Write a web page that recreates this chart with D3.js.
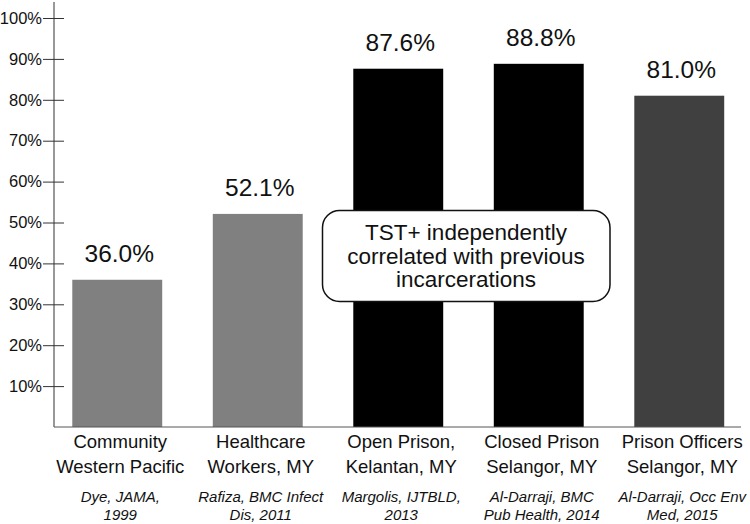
<!DOCTYPE html>
<meta charset="utf-8">
<script src="https://d3js.org/d3.v7.min.js"></script>
<style>
  body { margin: 0; background: #fff; }
  text { font-family: "Liberation Sans", Arial, sans-serif; fill: #111; }
</style>
<div id="chart"></div>
<script>
// data
const categories = [
  ["Community", "Western Pacific"],
  ["Healthcare", "Workers, MY"],
  ["Open Prison,", "Kelantan, MY"],
  ["Closed Prison", "Selangor, MY"],
  ["Prison Officers", "Selangor, MY"]
];
const values = [36.0, 52.1, 87.6, 88.8, 81.0];
const refs = [
  ["Dye, JAMA,", "1999"],
  ["Rafiza, BMC Infect", "Dis, 2011"],
  ["Margolis, IJTBLD,", "2013"],
  ["Al-Darraji, BMC", "Pub Health, 2014"],
  ["Al-Darraji, Occ Env", "Med, 2015"]
];
const yTicks = [10, 20, 30, 40, 50, 60, 70, 80, 90, 100];
const note = ["TST+ independently", "correlated with previous", "incarcerations"];

const barColors = ["#808080", "#808080", "#000", "#000", "#404040"];

const width = 750, height = 524;
const baseY = 427;

const svg = d3.select("#chart").append("svg")
  .attr("width", width)
  .attr("height", height);

const x = d3.scaleBand()
  .domain(d3.range(values.length))
  .range([47, 749.5])
  .paddingInner(0.36)
  .paddingOuter(0.18);

const y = d3.scaleLinear()
  .domain([0, 100])
  .range([baseY, 18]);

// y axis
const yAxis = svg.append("g")
  .attr("transform", "translate(54,0)")
  .call(d3.axisLeft(y).tickValues(yTicks).tickFormat(d => d + "%").tickSizeOuter(0));
yAxis.select(".domain").remove();
yAxis.selectAll(".tick line").attr("x1", 10).attr("x2", -11).attr("stroke", "#333");
yAxis.selectAll(".tick text")
  .attr("x", -12)
  .style("font-size", "16.5px")
  .style("font-family", "'Liberation Sans', Arial, sans-serif")
  .attr("fill", "#111");

svg.append("line")
  .attr("x1", 54).attr("x2", 54)
  .attr("y1", 2).attr("y2", baseY)
  .attr("stroke", "#333");

// bars
svg.append("g").selectAll("rect")
  .data(values)
  .join("rect")
    .attr("x", (d, i) => x(i))
    .attr("y", d => y(d))
    .attr("width", x.bandwidth())
    .attr("height", d => baseY - y(d))
    .attr("fill", (d, i) => barColors[i]);

// baseline
svg.append("line")
  .attr("x1", 54).attr("x2", 741)
  .attr("y1", baseY).attr("y2", baseY)
  .attr("stroke", "#555");

// value labels
svg.append("g").selectAll("text")
  .data(values)
  .join("text")
    .attr("x", (d, i) => x(i) + x.bandwidth() / 2 + 2)
    .attr("y", d => y(d) - 18)
    .attr("text-anchor", "middle")
    .style("font-size", "24.5px")
    .text(d => d.toFixed(1) + "%");

// category labels
const cat = svg.append("g").selectAll("text")
  .data(categories)
  .join("text")
    .attr("text-anchor", "middle")
    .style("font-size", "18.5px");
cat.selectAll("tspan")
  .data((d, i) => d.map(t => ({ t, i })))
  .join("tspan")
    .attr("x", d => x(d.i) + x.bandwidth() / 2 + 3)
    .attr("y", (d, j) => 448 + j * 24.5)
    .text(d => d.t);

// references
const ref = svg.append("g").selectAll("text")
  .data(refs)
  .join("text")
    .attr("text-anchor", "middle")
    .style("font-size", "15px")
    .style("font-style", "italic");
ref.selectAll("tspan")
  .data((d, i) => d.map(t => ({ t, i })))
  .join("tspan")
    .attr("x", d => x(d.i) + x.bandwidth() / 2 + 3)
    .attr("y", (d, j) => 501.5 + j * 18.5)
    .text(d => d.t);

// annotation box
svg.append("rect")
  .attr("x", 322.5).attr("y", 210.5)
  .attr("width", 287.5).attr("height", 91)
  .attr("rx", 17).attr("ry", 17)
  .attr("fill", "#fff")
  .attr("stroke", "#111")
  .attr("stroke-width", 1.5);

svg.append("g").selectAll("text")
  .data(note)
  .join("text")
    .attr("x", 466)
    .attr("y", (d, i) => 240 + i * 23.5)
    .attr("text-anchor", "middle")
    .style("font-size", "22.5px")
    .text(d => d);
</script>
